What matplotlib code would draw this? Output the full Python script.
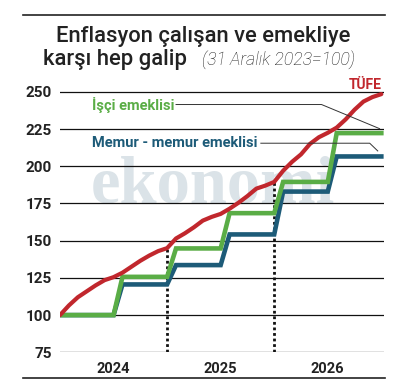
import matplotlib
matplotlib.use('Agg')
import matplotlib.pyplot as plt

# months since 31 Dec 2023 (0 = base, 36 = end of 2026)
months = list(range(37))

tufe = [100, 106.5, 112, 116, 120, 123.5, 125.5, 128.5, 132.5, 136.5, 140, 143,
        145, 151.5, 155, 159, 163.5, 166, 168, 171.5, 175.5, 180, 185, 187,
        189.5, 197, 203, 208, 215, 219.5, 222.5, 226, 231.5, 238, 243.5, 246.5, 248.5]

isci = [100] * 7 + [125.7] * 6 + [144.8] * 6 + [168.5] * 6 + [189.5] * 6 + [222.3] * 6
memur = [100] * 7 + [120.6] * 6 + [133.6] * 6 + [154.2] * 6 + [183.0] * 6 + [206.6] * 6

yticks = [75, 100, 125, 150, 175, 200, 225, 250]
years = ['2024', '2025', '2026']
year_mid = [6, 18, 30]
year_ends = [12, 24]

red = '#c1272d'
green = '#5aad46'
blue = '#1d5b78'
dark = '#222222'

plt.rcParams['font.family'] = ['Roboto', 'DejaVu Sans']

fig = plt.figure(figsize=(4.05, 3.9), dpi=100)
ax = fig.add_axes([60 / 405, 37.7 / 390, 324 / 405, 263.4 / 390])

# watermark, kept behind the lines
ax.text(213 / 405, 1 - 202 / 390, 'ekonomi', family='Liberation Serif', fontweight='bold',
        fontsize=48, color='#dbe3e8', ha='center', va='baseline', zorder=0,
        transform=fig.transFigure, clip_on=False)

for v in yticks:
    ax.axhline(v, color='#111111', lw=0.9, zorder=1)

for m in year_ends:
    ax.vlines(m, 75, tufe[m], colors='#111111', linestyles=(0, (1, 1)), lw=2.0, zorder=2)

ax.plot(months, memur, color=blue, lw=3.3, solid_joinstyle='miter', zorder=3)
ax.plot(months, isci, color=green, lw=3.3, solid_joinstyle='miter', zorder=4)
ax.plot(months, tufe, color=red, lw=3.0, solid_capstyle='round', zorder=5)

ax.set_xlim(0, 36.3)
ax.set_ylim(75, 252)
ax.set_yticks(yticks)
ax.set_yticklabels([str(v) for v in yticks], fontsize=11, fontweight='bold', color=dark)
ax.set_xticks(year_mid)
ax.set_xticklabels(years, fontsize=10.5, fontweight='bold', color=dark)
ax.tick_params(length=0, pad=6)
ax.tick_params(axis='x', pad=7)
for s in ax.spines.values():
    s.set_visible(False)
ax.patch.set_alpha(0)

# series labels with leader lines
ax.text(36.1, 252, 'TÜFE', color=red, fontsize=10, fontweight='bold', ha='right', va='baseline')
ax.text(3.6, 241.5, 'İşçi emeklisi', color=green, fontsize=10.5, fontweight='bold', va='center')
ax.plot([13, 29.3, 35.8], [241.5, 241.5, 225.3], color='#333333', lw=0.7, zorder=6)
ax.text(3.6, 215.5, 'Memur - memur emeklisi', color=blue, fontsize=10.5, fontweight='bold', va='center')
ax.plot([22.5, 34.7, 35.6], [215.5, 215.5, 210.3], color='#333333', lw=0.7, zorder=6)

# title
fig.text(203 / 405, 1 - 42 / 390, 'Enflasyon çalışan ve emekliye', fontsize=15.8,
         fontweight='medium', color=dark, ha='center', va='baseline')
fig.text(43 / 405, 1 - 65 / 390, 'karşı hep galip', fontsize=15.8,
         fontweight='medium', color=dark, ha='left', va='baseline')
fig.text(202 / 405, 1 - 65 / 390, '(31 Aralık 2023=100)', fontsize=12.8,
         fontweight='light', style='italic', color=dark, ha='left', va='baseline')

# top and bottom rules
fig.add_artist(plt.Line2D([23 / 405, 385 / 405], [1 - 15 / 390] * 2, color=dark, lw=1.2))
fig.add_artist(plt.Line2D([23 / 405, 385 / 405], [1 - 378 / 390] * 2, color=dark, lw=1.2))

fig.savefig('out.png', dpi=100)
